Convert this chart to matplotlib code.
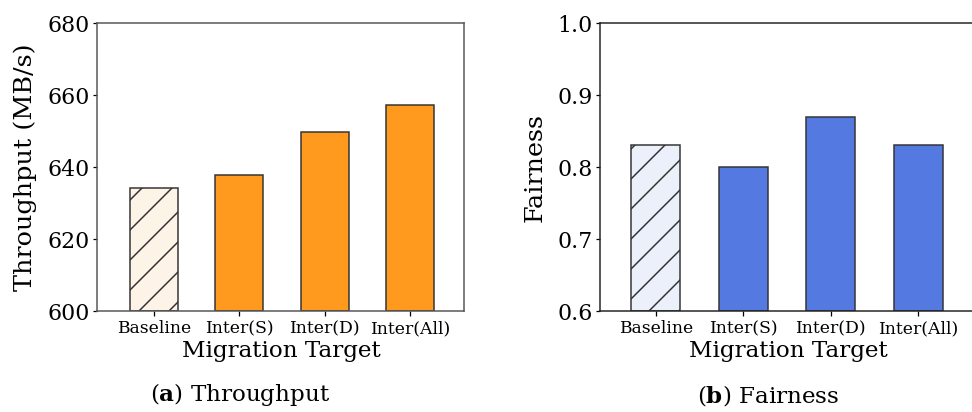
import matplotlib
matplotlib.use("Agg")
import matplotlib.pyplot as plt
import numpy as np

categories = ["Baseline", "Inter(S)", "Inter(D)", "Inter(All)"]
throughput = [634.2, 637.9, 649.8, 657.3]
fairness = [0.83, 0.80, 0.87, 0.83]
thr_ticks = [600, 620, 640, 660, 680]
fair_ticks = [0.6, 0.7, 0.8, 0.9, 1.0]

DPI = 180
plt.rcParams["font.family"] = "DejaVu Serif"
plt.rcParams["mathtext.fontset"] = "dejavuserif"
plt.rcParams["hatch.linewidth"] = 0.6

fig = plt.figure(figsize=(972 / DPI, 412 / DPI), dpi=DPI)

W, H = 972, 412
def ax_at(x0, y0, x1, y1):
    return fig.add_axes([x0 / W, 1 - y1 / H, (x1 - x0) / W, (y1 - y0) / H])

ax1 = ax_at(97, 23, 464, 311)
ax2 = ax_at(600, 23, 974, 311)

x = np.arange(len(categories))
bw = 0.56

def draw(ax, vals, main, light, ylim, ticks, ylabel, spine_col, xlim):
    cols = [light] + [main] * (len(vals) - 1)
    bars = ax.bar(x, np.array(vals) - ylim[0], bottom=ylim[0], width=bw,
                  color=cols, edgecolor="#333333", linewidth=0.6)
    bars[0].set_hatch("//")
    ax.set_ylim(*ylim)
    ax.set_xlim(*xlim)
    ax.set_yticks(ticks)
    ax.set_xticks(x)
    ax.set_xticklabels(categories, fontsize=6.9)
    ax.tick_params(axis="y", labelsize=8.8, length=1.8, width=0.5, pad=1.2)
    ax.tick_params(axis="x", length=2.0, width=0.5, pad=1.6)
    for s in ax.spines.values():
        s.set_color(spine_col)
        s.set_linewidth(0.6)
    ax.set_ylabel(ylabel, fontsize=10.2)
    ax.set_xlabel("Migration Target", fontsize=9.2)

draw(ax1, throughput, "#FF9A1F", "#FDF3E7", (600, 680), thr_ticks,
     "Throughput (MB/s)", "#555555", (-0.668, 3.633))
ax1.set_yticklabels([str(t) for t in thr_ticks])
draw(ax2, fairness, "#5479E0", "#EBF0FA", (0.6, 1.0), fair_ticks,
     "Fairness", "#222222", (-0.64, 3.64))
ax2.set_yticklabels([f"{t:.1f}" for t in fair_ticks])

ax1.yaxis.set_label_coords(-0.163, 0.5)
ax2.yaxis.set_label_coords(-0.142, 0.5)
ax1.xaxis.set_label_coords(0.503, -0.10)
ax2.xaxis.set_label_coords(0.503, -0.10)

fig.text(240 / W, 1 - 395 / H, r"($\mathbf{a}$) Throughput", fontsize=9.2,
         ha="center", va="center")
fig.text(768 / W, 1 - 395 / H, r"($\mathbf{b}$) Fairness", fontsize=9.2,
         ha="center", va="center")

fig.savefig("out.png", dpi=DPI)
